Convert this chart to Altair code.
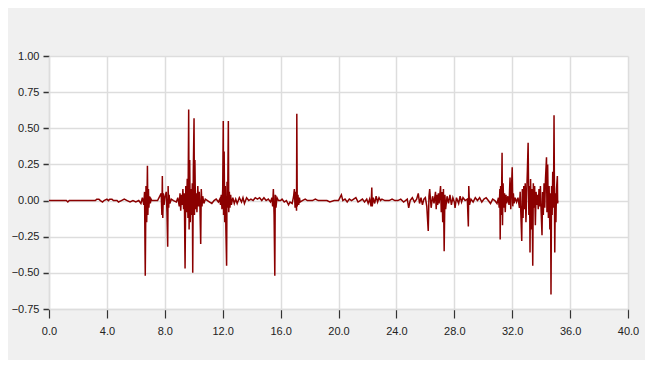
import altair as alt
import pandas as pd

# time (x) and amplitude (y)
t_vals = [
    0.0, 1.2, 1.3, 1.4, 3.2, 3.3, 3.45, 3.55, 3.7, 3.8, 4.0, 4.1, 4.2, 4.35, 4.45,
    4.7, 4.8, 5.0, 5.2, 5.4, 5.6, 5.8, 6.0, 6.2, 6.35, 6.45,
    6.55, 6.6, 6.65, 6.7, 6.75, 6.8, 6.83, 6.87, 6.9, 6.95, 7.0, 7.05, 7.1, 7.3, 7.5,
    7.75, 7.8, 7.83, 7.86, 7.9, 7.95, 8.0, 8.1, 8.15, 8.2, 8.23, 8.27, 8.3, 8.35, 8.45,
    8.6, 8.8, 8.9,
    9.0, 9.05, 9.1, 9.15, 9.2, 9.25, 9.3, 9.35, 9.4, 9.45, 9.5, 9.55, 9.6, 9.65, 9.68,
    9.72, 9.76, 9.8, 9.85, 9.9, 9.93, 9.97, 10.02, 10.05, 10.08, 10.12, 10.17, 10.22,
    10.28, 10.33, 10.38, 10.43, 10.48, 10.52, 10.57, 10.62, 10.7, 10.8, 10.95, 11.1,
    11.25, 11.4, 11.55, 11.7, 11.8,
    11.85, 11.9, 11.95, 12.0, 12.04, 12.06, 12.1, 12.14, 12.18, 12.22, 12.27, 12.3,
    12.34, 12.39, 12.42, 12.46, 12.5, 12.55, 12.6, 12.7, 12.8, 12.9,
    13.0, 13.15, 13.3, 13.4, 13.5, 13.65, 13.8, 13.95, 14.1, 14.25, 14.4, 14.55, 14.7,
    14.85, 15.0, 15.15, 15.3, 15.4,
    15.45, 15.5, 15.55, 15.6, 15.63, 15.68, 15.75, 15.85, 16.0, 16.1, 16.25, 16.4,
    16.55, 16.65, 16.8, 16.9,
    16.95, 17.0, 17.05, 17.1, 17.12, 17.15, 17.2, 17.25, 17.3, 17.35, 17.5, 17.7,
    17.85, 18.2, 18.4, 18.6, 19.2, 19.4, 19.7, 20.0, 20.1, 20.2, 20.3, 20.45, 20.6,
    20.75, 20.9, 21.05, 21.2, 21.35, 21.5, 21.65, 21.8, 21.95, 22.05, 22.15, 22.25,
    22.3, 22.33, 22.4, 22.5, 22.6, 22.7, 22.8, 22.9, 23.0, 23.2, 23.5, 23.7, 23.9,
    24.1, 24.3, 24.5, 24.75, 24.85, 24.95,
    25.1, 25.25, 25.4, 25.51, 25.6, 25.7, 25.8, 25.9, 26.0, 26.1, 26.2, 26.25, 26.3,
    26.4, 26.5, 26.6, 26.7, 26.75, 26.8, 26.85, 26.9, 26.95, 27.0, 27.05, 27.1,
    27.15, 27.2, 27.25, 27.3, 27.35, 27.4, 27.5, 27.6, 27.7, 27.8, 27.9, 28.0,
    28.05, 28.15, 28.3, 28.4, 28.5, 28.6, 28.75, 28.9, 28.97, 29.0, 29.05, 29.15,
    29.3, 29.45, 29.6, 29.75, 29.9, 30.05, 30.2, 30.35, 30.5, 30.65, 30.8, 30.95,
    31.05, 31.1, 31.15, 31.17, 31.2, 31.25, 31.3, 31.33, 31.37, 31.42, 31.47, 31.52,
    31.57, 31.62, 31.7, 31.78, 31.85, 31.9, 31.95, 32.0, 32.04, 32.08, 32.13, 32.2,
    32.3, 32.4, 32.5, 32.55, 32.6, 32.66, 32.7, 32.75, 32.8, 32.85, 32.9, 32.95,
    33.0, 33.05, 33.1, 33.15, 33.2, 33.23, 33.27, 33.32, 33.37, 33.42, 33.46, 33.5,
    33.55, 33.6, 33.65, 33.7, 33.75, 33.8, 33.85, 33.9, 33.95, 34.0, 34.06, 34.1,
    34.15, 34.2, 34.25, 34.3, 34.37, 34.4, 34.45, 34.5, 34.55, 34.6, 34.65, 34.68,
    34.72, 34.76, 34.8, 34.85, 34.89, 34.94, 34.98, 35.02, 35.06, 35.12, 35.14, 35.16,
]
amp_vals = [
    0.0, 0.0, -0.01, 0.0, 0.0, 0.01, 0.01, 0.0, -0.01, 0.0, 0.01, 0.0, 0.01, 0.01, 0.0,
    0.0, -0.01, 0.0, 0.01, 0.0, -0.01, 0.0, -0.01, 0.0, -0.02, 0.02,
    -0.03, 0.06, -0.52, 0.10, -0.15, 0.24, -0.10, 0.08, -0.05, 0.03, -0.02, 0.01, 0.0, 0.0, 0.0,
    0.05, -0.10, 0.17, -0.12, 0.05, -0.03, 0.02, 0.06, -0.08, -0.32, 0.10, -0.05, 0.04, -0.02, 0.01,
    0.0, -0.01, 0.02,
    -0.04, 0.05, -0.07, 0.04, -0.03, 0.08, -0.06, 0.05, -0.47, 0.10, -0.08, 0.15, -0.12, 0.63, -0.20,
    0.28, -0.15, 0.08, -0.10, 0.12, -0.50, 0.20, 0.57, -0.10, 0.28, -0.06, 0.05, -0.08,
    0.10, -0.04, 0.06, -0.05, -0.30, 0.08, -0.04, 0.03, -0.02, 0.01, 0.0, -0.01,
    -0.02, 0.0, 0.01, -0.01, 0.01,
    -0.03, 0.04, -0.06, 0.08, 0.55, -0.10, 0.34, -0.15, 0.10, -0.20, -0.45, 0.13,
    -0.05, 0.55, -0.08, 0.06, -0.05, 0.04, -0.03, 0.02, -0.02, 0.01,
    -0.02, 0.02, -0.01, 0.02, -0.02, 0.02, 0.0, 0.01, 0.0, 0.02, 0.01, 0.02, 0.0,
    0.02, 0.0, 0.01, -0.01, 0.02,
    -0.04, 0.08, -0.10, -0.52, 0.04, -0.05, 0.02, 0.0, 0.0, 0.01, -0.01, 0.0,
    -0.03, -0.01, -0.02, 0.03,
    0.08, -0.05, 0.06, -0.07, 0.60, -0.04, 0.04, -0.03, 0.02, -0.01, 0.0, 0.01,
    0.0, 0.0, 0.01, 0.0, 0.0, -0.01, 0.0, 0.0, 0.02, 0.04, 0.0, 0.01, -0.01,
    0.01, 0.0, 0.01, 0.02, -0.01, 0.0, 0.01, -0.01, 0.01, -0.02, 0.01, -0.04,
    0.09, -0.04, 0.02, -0.02, 0.03, -0.01, 0.02, 0.0, 0.01, 0.0, 0.0, 0.01, 0.0,
    0.0, 0.01, -0.01, 0.01, -0.05, 0.0,
    0.02, -0.01, 0.01, 0.05, -0.02, 0.02, -0.03, 0.01, 0.02, -0.04, -0.21, 0.03, 0.08,
    -0.05, 0.03, -0.02, 0.06, -0.06, 0.04, -0.03, 0.05, -0.02, 0.04, 0.10, -0.08,
    0.06, -0.15, 0.08, -0.35, 0.04, -0.06, 0.03, -0.02, 0.04, -0.03, 0.02, -0.01,
    -0.05, 0.02, -0.02, 0.03, -0.01, 0.02, 0.0, 0.01, -0.18, 0.10, -0.03, 0.01,
    -0.01, 0.02, 0.0, 0.02, -0.01, 0.01, 0.02, 0.0, -0.02, 0.01, 0.0, -0.02,
    0.02, -0.05, 0.08, -0.27, 0.10, -0.10, 0.33, -0.17, 0.12, -0.05, 0.05, -0.08,
    0.04, -0.02, 0.03, -0.03, 0.16, -0.06, 0.08, 0.23, -0.04, 0.05, -0.02, 0.02,
    -0.01, 0.02, -0.05, 0.06, -0.10, -0.28, 0.08, -0.12, 0.10, -0.06, 0.12, -0.15,
    0.05, 0.21, 0.40, -0.10, 0.10, -0.36, 0.15, -0.20, 0.08, -0.45, 0.12, -0.05,
    0.10, -0.17, 0.06, -0.03, 0.04, -0.06, 0.08, -0.04, 0.10, -0.08, -0.24, 0.06,
    -0.10, 0.12, -0.05, 0.15, 0.30, -0.08, 0.25, -0.12, 0.10, -0.20, 0.05, -0.65,
    0.10, -0.10, 0.20, -0.05, 0.59, -0.36, 0.05, -0.15, 0.08, 0.17, -0.02, 0.0,
]

x_ticks = [0, 4, 8, 12, 16, 20, 24, 28, 32, 36, 40]
y_ticks = [-0.75, -0.5, -0.25, 0.0, 0.25, 0.5, 0.75, 1.0]

df = pd.DataFrame({"t": t_vals, "amp": amp_vals})

FONT = "Liberation Sans Narrow, Liberation Sans, Arial, sans-serif"

chart = alt.Chart(df).mark_line(color="#8b0000", strokeWidth=1.5, interpolate="linear").encode(
    x=alt.X("t:Q", scale=alt.Scale(domain=[0, 40], nice=False, zero=False),
            axis=alt.Axis(values=x_ticks, format=".1f", title=None, tickSize=9,
                          tickColor="#333333", tickWidth=1.2, labelPadding=7,
                          labelFlush=False, labelOverlap=False,
                          gridColor="#dddddd", gridWidth=1.5, domainColor="#dddddd",
                          domainWidth=1.5, labelFont=FONT, labelFontSize=11,
                          labelColor="#222222")),
    y=alt.Y("amp:Q", scale=alt.Scale(domain=[-0.75, 1.0], nice=False, zero=False),
            axis=alt.Axis(values=y_ticks, format=".2f", title=None, tickSize=6,
                          tickColor="#333333", tickWidth=1.5, labelPadding=4,
                          labelFlush=False, labelOverlap=False,
                          gridColor="#dddddd", gridWidth=1.5, domainColor="#dddddd",
                          domainWidth=1.5, labelFont=FONT, labelFontSize=11,
                          labelColor="#222222")),
).properties(
    width=579,
    height=253,
    autosize=alt.AutoSizeParams(type="none"),
    padding={"left": 41, "top": 48, "right": 17, "bottom": 51},
    background="#f0f0f0",
).configure_view(
    fill="white", stroke=None
)

chart.save("out.html", embed_options={"renderer": "svg", "actions": False})
